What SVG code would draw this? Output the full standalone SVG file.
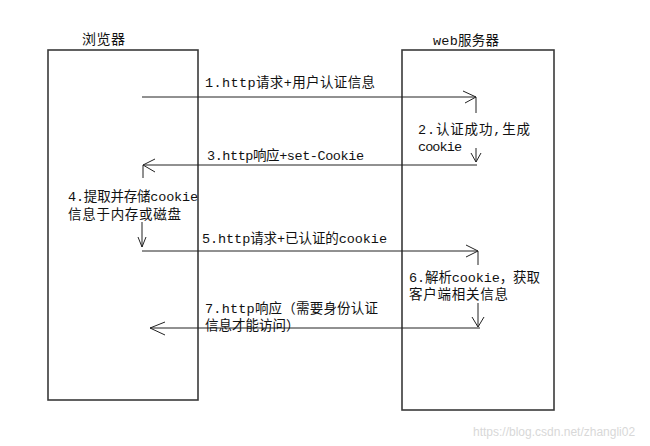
<svg xmlns="http://www.w3.org/2000/svg" width="650" height="446" viewBox="0 0 650 446">
<style>
.box{fill:#fff;stroke:#3a3a3a;stroke-width:1.6}
.c{fill:none;stroke:#222;stroke-width:1}
.t{font-family:"Liberation Mono","Noto Sans CJK SC",monospace;font-size:13.5px;fill:#111}
.h{font-family:"Noto Sans CJK SC",sans-serif;font-size:14px;fill:#111}
.w{font-family:"Liberation Sans",Arial,sans-serif;font-size:12px;fill:#d8d8d8}
</style>
<rect width="650" height="446" fill="#fff"/>
<g id="browser">
<rect class="box" x="48" y="50" width="150" height="350"/>
<text class="h" x="82" y="44" textLength="43">浏览器</text>
</g>
<g id="server">
<rect class="box" x="402" y="50" width="152" height="360"/>
<text class="t" x="433" y="45" textLength="66">web服务器</text>
</g>
<g id="connectors">
<path class="c" d="M142,97H476M463,91L476,97L465,103M476,97V113"/>
<path class="c" d="M476,148V162M471,153L476,162L481,153"/>
<path class="c" d="M477,165H143M155,159L143,165L155,172M143,165V178"/>
<path class="c" d="M142,222V247M138,237L142,247L146,237"/>
<path class="c" d="M142,251H478M466,245L478,251L466,257M478,251V265"/>
<path class="c" d="M478,303V327M472,317L478,327L484,317"/>
<path class="c" d="M480,328H150M165,322L150,328L165,335"/>
</g>
<g id="labels">
<text class="t" x="205" y="87" textLength="170">1.http请求+用户认证信息</text>
<text class="t" x="418" y="134" textLength="112">2.认证成功,生成</text>
<text class="t" x="418" y="151" textLength="44">cookie</text>
<text class="t" x="207" y="160" textLength="157">3.http响应+set-Cookie</text>
<text class="t" x="68" y="201" textLength="130">4.提取并存储cookie</text>
<text class="t" x="68" y="219" textLength="113">信息于内存或磁盘</text>
<text class="t" x="202" y="243" textLength="185">5.http请求+已认证的cookie</text>
<text class="t" x="409" y="282" textLength="131">6.解析cookie，获取</text>
<text class="t" x="409" y="299" textLength="99">客户端相关信息</text>
<text class="t" x="205" y="313" textLength="173">7.http响应（需要身份认证</text>
<text class="t" x="205" y="330">信息才能访问）</text>
</g>
<text class="w" x="473" y="436">https://blog.csdn.net/zhangli02</text>
</svg>
